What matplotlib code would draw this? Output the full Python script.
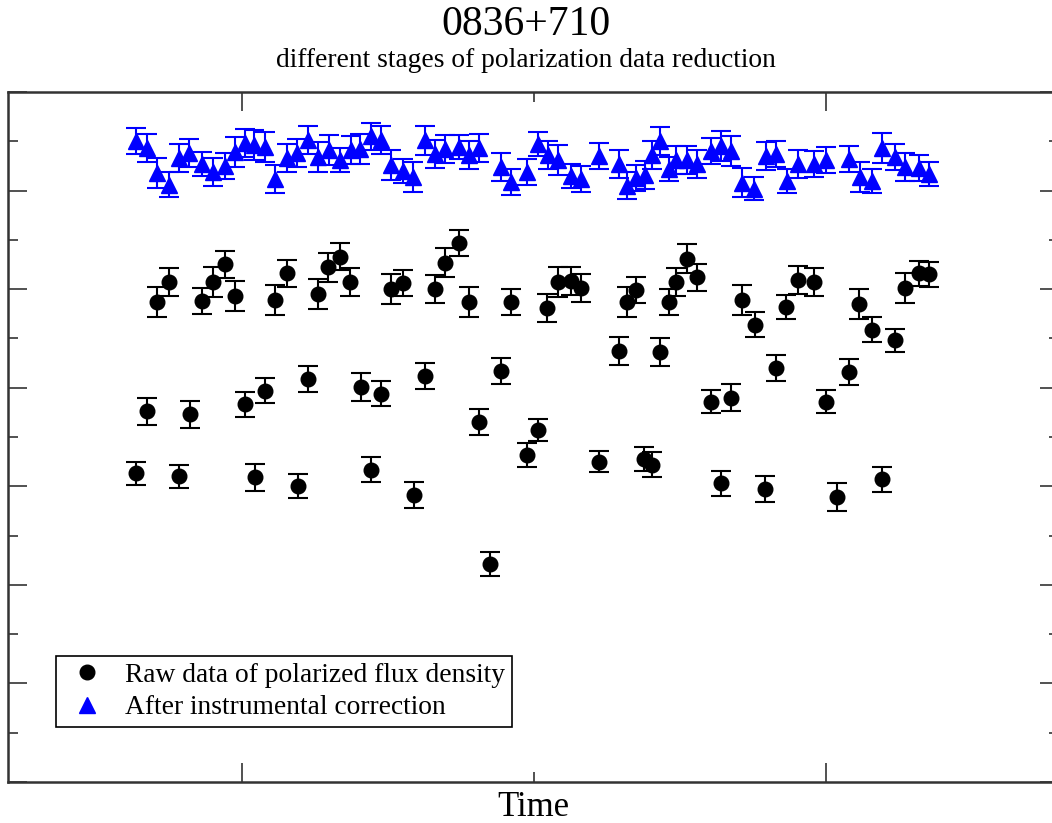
import numpy as np
import matplotlib
matplotlib.use("Agg")
import matplotlib.pyplot as plt
from matplotlib.ticker import MultipleLocator, NullFormatter
from matplotlib.lines import Line2D

plt.rcParams['font.family'] = ['Liberation Serif', 'DejaVu Serif']

# raw polarized flux density (time in days, flux in Jy)
raw_t = [-29.1, -25.0, -13.6, -10.0, -5.9, -2.5, 11.4, 15.5, 26.1, 29.6,
         33.6, 37.1, 51.0, 55.2, 66.1, 69.6, 74.4, 77.8, 92.0, 104.6,
         108.3, 112.6, 116.0, 131.7, 134.9, 146.1, 148.6, 152.3, 155.8, 171.2,
         175.6, 186.4, 190.4, 196.0, 211.4, 215.8, 223.7, 227.2, 231.7, 235.3,
         -32.6, -17.9, 1.0, 8.0, 22.6, 40.7, 47.6, 62.6, 81.3, 88.6,
         97.7, 101.3, 122.4, 129.0, 137.7, 140.4, 143.0, 160.6, 167.5, 182.8,
         200.1, 207.9,
         -36.1, -21.6, 4.5, 19.1, 44.2, 58.9, 84.9, 164.0, 179.2, 203.7, 219.2]
raw_p = [0.487, 0.507, 0.488, 0.507, 0.525, 0.493, 0.489, 0.516, 0.495, 0.522,
         0.533, 0.507, 0.500, 0.506, 0.500, 0.527, 0.547, 0.487, 0.487, 0.481,
         0.507, 0.508, 0.501, 0.487, 0.499, 0.487, 0.507, 0.531, 0.512, 0.489,
         0.464, 0.482, 0.509, 0.507, 0.485, 0.459, 0.448, 0.501, 0.516, 0.515,
         0.376, 0.373, 0.383, 0.397, 0.409, 0.401, 0.394, 0.412, 0.365, 0.417,
         0.332, 0.357, 0.325, 0.437, 0.328, 0.322, 0.436, 0.386, 0.390, 0.420,
         0.386, 0.416,
         0.313, 0.310, 0.309, 0.300, 0.317, 0.291, 0.221, 0.303, 0.297, 0.289, 0.307]
raw_err = [0.015, 0.014, 0.013, 0.015, 0.014, 0.015, 0.015, 0.014, 0.015, 0.015,
           0.014, 0.014, 0.015, 0.013, 0.014, 0.015, 0.013, 0.015, 0.013, 0.014,
           0.015, 0.014, 0.014, 0.015, 0.013, 0.013, 0.014, 0.015, 0.014, 0.015,
           0.013, 0.012, 0.014, 0.014, 0.015, 0.013, 0.012, 0.015, 0.013, 0.013,
           0.014, 0.014, 0.013, 0.013, 0.013, 0.014, 0.013, 0.013, 0.013, 0.013,
           0.012, 0.011, 0.011, 0.014, 0.012, 0.013, 0.014, 0.012, 0.014, 0.013,
           0.012, 0.013,
           0.012, 0.012, 0.014, 0.012, 0.013, 0.013, 0.012, 0.013, 0.013, 0.014, 0.013]

# after instrumental correction
cor_t = [-36.1, -32.6, -29.0, -25.0, -21.5, -18.0, -13.5, -10.0, -5.9, -2.4,
         0.9, 4.3, 7.9, 11.3, 15.5, 18.9, 22.7, 26.1, 29.7, 33.6,
         37.2, 40.5, 44.1, 47.6, 51.0, 55.2, 58.7, 62.7, 66.1, 69.6,
         74.3, 77.7, 81.2, 88.6, 92.2, 97.5, 101.3, 104.9, 108.3, 112.7,
         116.0, 122.4, 129.1, 131.8, 134.9, 137.9, 140.4, 143.2, 146.1, 148.6,
         152.3, 155.7, 160.6, 164.0, 167.4, 171.2, 175.4, 179.3, 182.8, 186.5,
         190.4, 196.0, 200.1, 208.0, 211.5, 215.7, 219.2, 223.6, 227.1, 231.7, 235.3]
cor_p = [0.650, 0.643, 0.618, 0.606, 0.633, 0.638, 0.627, 0.619, 0.625, 0.639,
         0.648, 0.646, 0.644, 0.612, 0.633, 0.638, 0.651, 0.634, 0.641, 0.631,
         0.641, 0.642, 0.655, 0.651, 0.626, 0.620, 0.614, 0.651, 0.637, 0.642,
         0.644, 0.636, 0.643, 0.624, 0.609, 0.619, 0.647, 0.636, 0.631, 0.615,
         0.612, 0.635, 0.627, 0.605, 0.613, 0.616, 0.636, 0.650, 0.622, 0.631,
         0.631, 0.627, 0.640, 0.645, 0.640, 0.608, 0.602, 0.635, 0.637, 0.610,
         0.627, 0.627, 0.631, 0.632, 0.614, 0.610, 0.643, 0.634, 0.624, 0.623, 0.617]
cor_err = [0.013, 0.014, 0.015, 0.013, 0.014, 0.014, 0.012, 0.014, 0.013, 0.015,
           0.014, 0.015, 0.015, 0.014, 0.014, 0.014, 0.014, 0.015, 0.015, 0.012,
           0.014, 0.015, 0.014, 0.014, 0.015, 0.012, 0.015, 0.015, 0.014, 0.014,
           0.012, 0.014, 0.014, 0.014, 0.013, 0.013, 0.012, 0.014, 0.015, 0.012,
           0.013, 0.013, 0.014, 0.014, 0.013, 0.014, 0.014, 0.014, 0.012, 0.014,
           0.014, 0.014, 0.013, 0.015, 0.015, 0.015, 0.012, 0.014, 0.013, 0.012,
           0.014, 0.013, 0.013, 0.013, 0.015, 0.012, 0.015, 0.013, 0.014, 0.013, 0.012]

labels = ["Raw data of polarized flux density", "After instrumental correction"]

fig = plt.figure(figsize=(10.52, 8.23), dpi=100)
ax = fig.add_axes([8/1052, 41/823, 1051/1052, 690/823])

ax.errorbar(raw_t, raw_p, yerr=raw_err, fmt='o', color='black', ms=10.5,
            elinewidth=1.5, capsize=7, capthick=1.5)
ax.errorbar(cor_t, cor_p, yerr=cor_err, fmt='^', color='blue', ms=11.5,
            elinewidth=1.5, capsize=7, capthick=1.5)

ax.set_xlim(-80.1, 279.8)
ax.set_ylim(0, 0.7)
ax.xaxis.set_major_locator(MultipleLocator(200))
ax.xaxis.set_minor_locator(MultipleLocator(100))
ax.yaxis.set_major_locator(MultipleLocator(0.1))
ax.yaxis.set_minor_locator(MultipleLocator(0.05))
ax.xaxis.set_major_formatter(NullFormatter())
ax.yaxis.set_major_formatter(NullFormatter())
ax.tick_params(which='both', direction='in', top=True, right=True, color='#333333')
ax.tick_params(which='major', length=14, width=1.2)
ax.tick_params(which='minor', length=7, width=1.2)
for s in ax.spines.values():
    s.set_linewidth(1.8)
    s.set_color('#333333')

ax.set_xlabel("Time", fontsize=25, labelpad=3)

fig.text(0.5, 0.970, "0836+710", ha='center', va='center', fontsize=30)
fig.text(0.5, 0.926, "different stages of polarization data reduction",
         ha='center', va='center', fontsize=19.8)

handles = [Line2D([], [], ls='none', marker='o', color='black', ms=10.5),
           Line2D([], [], ls='none', marker='^', color='blue', ms=11.5)]
leg = ax.legend(handles, labels, loc='lower left', bbox_to_anchor=(48/1051, 55/690),
                fontsize=19.8, fancybox=False, framealpha=1, edgecolor='black',
                handlelength=1.75, handletextpad=0.5, borderpad=0.25,
                labelspacing=0.25, borderaxespad=0)
leg.get_frame().set_linewidth(1.2)

fig.savefig("out.png", dpi=100)
